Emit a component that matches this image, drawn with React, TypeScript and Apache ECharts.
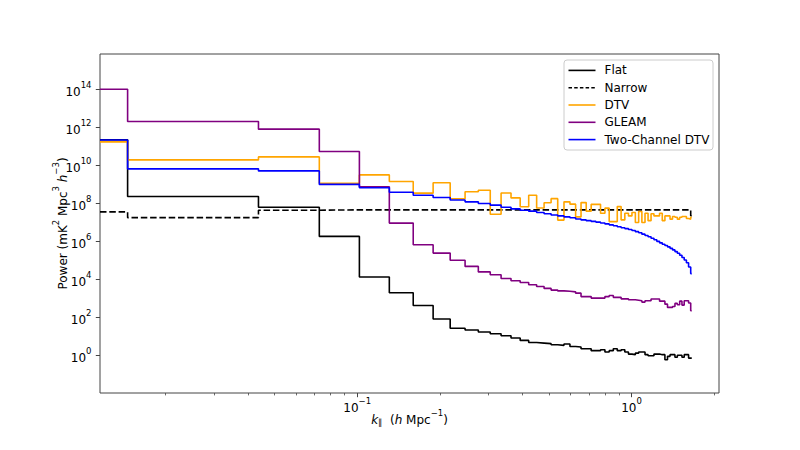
import React, { useEffect, useRef } from "react";
import * as echarts from "echarts";

// k_parallel bin centres (h Mpc^-1)
const K_PAR = [
  0, 0.0291, 0.0582, 0.0873, 0.1164, 0.1455, 0.1746, 0.2037, 0.2328, 0.2619,
  0.291, 0.3201, 0.3492, 0.3783, 0.4074, 0.4365, 0.4656, 0.4947, 0.5238, 0.5529,
  0.582, 0.6111, 0.6402, 0.6693, 0.6984, 0.7275, 0.7566, 0.7857, 0.8148, 0.8439,
  0.873, 0.9021, 0.9312, 0.9603, 0.9894, 1.0185, 1.0476, 1.0767, 1.1058, 1.1349,
  1.164, 1.1931, 1.2222, 1.2513, 1.2804, 1.3095, 1.3386, 1.3677, 1.3968, 1.4259,
  1.455, 1.4841, 1.5132, 1.5423, 1.5714, 1.6005, 1.6296, 1.6587,
];

// log10 of power (mK^2 Mpc^3 h^-3), one value per k bin
const FLAT_LOG10 = [
  11.35, 8.36, 7.8, 6.26, 4.12, 3.29, 2.62, 1.91, 1.42, 1.33,
  1.22, 1.13, 1.03, 0.91, 0.78, 0.67, 0.64, 0.61, 0.55, 0.52,
  0.59, 0.46, 0.43, 0.34, 0.34, 0.24, 0.24, 0.29, 0.17, 0.24,
  0.34, 0.24, 0.29, 0.17, 0.06, 0.03, 0.11, 0.17, 0.17, 0.03,
  -0.03, -0.03, 0.06, 0.06, 0.03, 0.03, -0.24, -0.06, 0.03, 0.03,
  -0.11, 0.0, 0.0, -0.11, 0.03, 0.03, -0.15, -0.15,
];

const NARROW_LOG10 = [
  7.55, 7.25, 7.64, 7.66, 7.66, 7.66, 7.66, 7.66, 7.66, 7.66,
  7.66, 7.66, 7.66, 7.66, 7.66, 7.66, 7.66, 7.66, 7.66, 7.66,
  7.66, 7.66, 7.66, 7.66, 7.66, 7.66, 7.66, 7.66, 7.66, 7.66,
  7.66, 7.66, 7.66, 7.66, 7.66, 7.66, 7.66, 7.66, 7.66, 7.66,
  7.66, 7.66, 7.66, 7.66, 7.66, 7.66, 7.66, 7.66, 7.66, 7.66,
  7.66, 7.66, 7.66, 7.66, 7.66, 7.66, 7.66, 7.35,
];

const DTV_LOG10 = [
  11.24, 10.29, 10.45, 9.06, 9.5, 9.15, 8.54, 9.09, 8.24, 8.61,
  8.69, 7.43, 8.55, 8.29, 7.82, 8.43, 7.76, 8.03, 8.25, 7.12,
  8.08, 7.96, 7.29, 8.04, 7.59, 7.95, 7.95, 7.48, 7.75, 7.04,
  7.04, 7.83, 7.13, 7.48, 7.34, 7.52, 6.99, 7.57, 6.99, 7.48,
  7.09, 7.45, 7.34, 7.34, 7.48, 7.09, 7.34, 7.34, 7.17, 7.31,
  7.27, 7.17, 7.27, 7.31, 7.31, 7.2, 7.17, 7.27,
];

const GLEAM_LOG10 = [
  14.01, 12.31, 11.91, 10.73, 8.88, 6.96, 5.82, 5.38, 5.0, 4.68,
  4.39, 4.24, 4.04, 3.92, 3.83, 3.71, 3.62, 3.52, 3.43, 3.39,
  3.37, 3.34, 3.27, 3.09, 3.09, 3.01, 3.01, 3.01, 3.09, 3.15,
  3.05, 3.05, 2.97, 2.97, 2.92, 2.92, 2.9, 2.87, 2.8, 2.87,
  2.87, 2.96, 2.96, 2.96, 2.85, 2.85, 2.69, 2.52, 2.52, 2.57,
  2.73, 2.66, 2.85, 2.64, 2.87, 2.87, 2.75, 2.34,
];

const TWO_CHANNEL_DTV_LOG10 = [
  11.34, 9.82, 9.71, 9.0, 8.82, 8.59, 8.43, 8.31, 8.18, 8.08,
  7.99, 7.91, 7.8, 7.71, 7.64, 7.59, 7.52, 7.45, 7.39, 7.34,
  7.29, 7.24, 7.18, 7.13, 7.09, 7.05, 7.01, 6.97, 6.92, 6.87,
  6.82, 6.77, 6.72, 6.67, 6.62, 6.57, 6.51, 6.45, 6.38, 6.31,
  6.24, 6.16, 6.08, 6.0, 5.92, 5.85, 5.78, 5.71, 5.63, 5.55,
  5.46, 5.37, 5.27, 5.15, 5.02, 4.87, 4.65, 4.3,
];

const SERIES_NAMES = ["Flat", "Narrow", "DTV", "GLEAM", "Two-Channel DTV"];
const SERIES_COLORS = ["#000000", "#000000", "#ffa500", "#800080", "#0000ff"];

// axis extents and ticks
const X_MIN = 0.01154;
const X_MAX = 2.085;
const Y_MIN_EXP = -1.99;
const Y_MAX_EXP = 15.87;
const X_MAJOR_TICKS = [0.1, 1];
const X_MINOR_TICKS = [
  0.02, 0.03, 0.04, 0.05, 0.06, 0.07, 0.08, 0.09,
  0.2, 0.3, 0.4, 0.5, 0.6, 0.7, 0.8, 0.9, 2,
];
const Y_MAJOR_TICKS = [1, 1e2, 1e4, 1e6, 1e8, 1e10, 1e12, 1e14];

const FONT = "DejaVu Sans";
const TEXT_COLOR = "#000";
const FRAME_COLOR = "#444";
const DASH = [6.5, 2.8];

function stepPoints(logVals: number[]): number[][] {
  const pts: number[][] = [];
  for (let i = 0; i < K_PAR.length; i++) {
    const left = i === 0 ? X_MIN : (K_PAR[i - 1] + K_PAR[i]) / 2;
    const right = i === K_PAR.length - 1 ? K_PAR[i] : (K_PAR[i] + K_PAR[i + 1]) / 2;
    const v = Math.pow(10, logVals[i]);
    pts.push([left, v], [right, v]);
  }
  return pts;
}

function powLabel(v: number): string {
  const e = Math.round(Math.log10(v));
  const s = e < 0 ? "\u2212" + String(-e) : String(e);
  return `{b|10}{s|${s}}`;
}

const richTick = {
  b: { fontSize: 12, lineHeight: 18, verticalAlign: "bottom", fontFamily: FONT, color: TEXT_COLOR },
  s: { fontSize: 8.5, lineHeight: 9, verticalAlign: "top", fontFamily: FONT, color: TEXT_COLOR },
};

const richName = {
  b: { fontSize: 12, lineHeight: 18, verticalAlign: "bottom", fontFamily: FONT, color: TEXT_COLOR },
  i: { fontSize: 12, lineHeight: 18, verticalAlign: "bottom", fontFamily: FONT, color: TEXT_COLOR, fontStyle: "italic" },
  s: { fontSize: 8.5, lineHeight: 11, verticalAlign: "top", fontFamily: FONT, color: TEXT_COLOR },
  sub: { fontSize: 8.5, lineHeight: 10, verticalAlign: "bottom", fontFamily: FONT, color: TEXT_COLOR },
};

export default function App() {
  const ref = useRef<HTMLDivElement>(null);

  useEffect(() => {
    if (!ref.current) return;
    const chart = echarts.init(ref.current, undefined, { renderer: "svg" });
    const allVals = [FLAT_LOG10, NARROW_LOG10, DTV_LOG10, GLEAM_LOG10, TWO_CHANNEL_DTV_LOG10];

    const series = SERIES_NAMES.map((name, idx) => ({
      name,
      type: "line",
      xAxisIndex: 0,
      yAxisIndex: 0,
      data: stepPoints(allVals[idx]),
      symbol: "none",
      showSymbol: false,
      clip: true,
      z: 2 + idx,
      lineStyle: {
        color: SERIES_COLORS[idx],
        width: 1.6,
        type: name === "Narrow" ? DASH : "solid",
      },
      itemStyle: { color: SERIES_COLORS[idx] },
    }));

    const legendData = SERIES_NAMES.map((name, idx) => ({
      name,
      itemStyle: { opacity: 0 },
      lineStyle: {
        color: SERIES_COLORS[idx],
        width: 1.6,
        type: name === "Narrow" ? [3.5, 2.2] : "solid",
      },
    }));

    chart.setOption({
      animation: false,
      backgroundColor: "#ffffff",
      textStyle: { fontFamily: FONT },
      grid: {
        left: 100,
        right: 81,
        top: 54,
        bottom: 57,
        show: true,
        borderColor: FRAME_COLOR,
        borderWidth: 1,
        backgroundColor: "transparent",
      },
      legend: {
        data: legendData,
        orient: "vertical",
        left: 564,
        top: 60,
        itemWidth: 27,
        itemHeight: 12,
        itemGap: 5.3,
        padding: [4.4, 3.6, 4.4, 3.7],
        backgroundColor: "rgba(255,255,255,0.8)",
        borderColor: "#cccccc",
        borderWidth: 1,
        borderRadius: 3,
        selectedMode: false,
        itemStyle: { opacity: 0 },
        textStyle: { fontSize: 12, fontFamily: FONT, color: TEXT_COLOR, padding: [0, 0, 0, 4] },
      },
      xAxis: [
        {
          type: "log",
          min: X_MIN,
          max: X_MAX,
          position: "bottom",
          axisLine: { show: false },
          splitLine: { show: false },
          axisTick: {
            show: true,
            length: 4.2,
            customValues: X_MAJOR_TICKS,
            lineStyle: { color: FRAME_COLOR, width: 1 },
          },
          axisLabel: {
            show: true,
            margin: 3,
            customValues: X_MAJOR_TICKS,
            formatter: (v: number) => powLabel(v),
            rich: richTick,
          },
          name: "{i|k}{sub|\u2225}{b|  (}{i|h}{b| Mpc}{s|\u22121}{b|)}",
          nameLocation: "middle",
          nameGap: 15,
          nameMoveOverlap: false,
          nameTextStyle: { rich: richName },
        },
        {
          type: "log",
          min: X_MIN,
          max: X_MAX,
          position: "bottom",
          axisLine: { show: false },
          splitLine: { show: false },
          axisLabel: { show: false },
          axisTick: {
            show: true,
            length: 2.4,
            customValues: X_MINOR_TICKS,
            lineStyle: { color: FRAME_COLOR, width: 0.8 },
          },
        },
      ],
      yAxis: [
        {
          type: "log",
          min: Math.pow(10, Y_MIN_EXP),
          max: Math.pow(10, Y_MAX_EXP),
          axisLine: { show: false },
          splitLine: { show: false },
          axisTick: {
            show: true,
            length: 4.2,
            customValues: Y_MAJOR_TICKS,
            lineStyle: { color: FRAME_COLOR, width: 1 },
          },
          axisLabel: {
            show: true,
            margin: 8.5,
            customValues: Y_MAJOR_TICKS,
            formatter: (v: number) => powLabel(v),
            rich: richTick,
          },
          name: "{b|Power (mK}{s|2}{b| Mpc}{s|3}{b| }{i|h}{s|\u22123}{b|)}",
          nameLocation: "middle",
          nameRotate: 90,
          nameGap: 31,
          nameMoveOverlap: false,
          nameTextStyle: { rich: richName },
        },
      ],
      series,
    });

    return () => {
      chart.dispose();
    };
  }, []);

  return (
    <div
      ref={ref}
      style={{ position: "fixed", left: 0, top: 0, width: 800, height: 450, background: "#fff" }}
    />
  );
}
